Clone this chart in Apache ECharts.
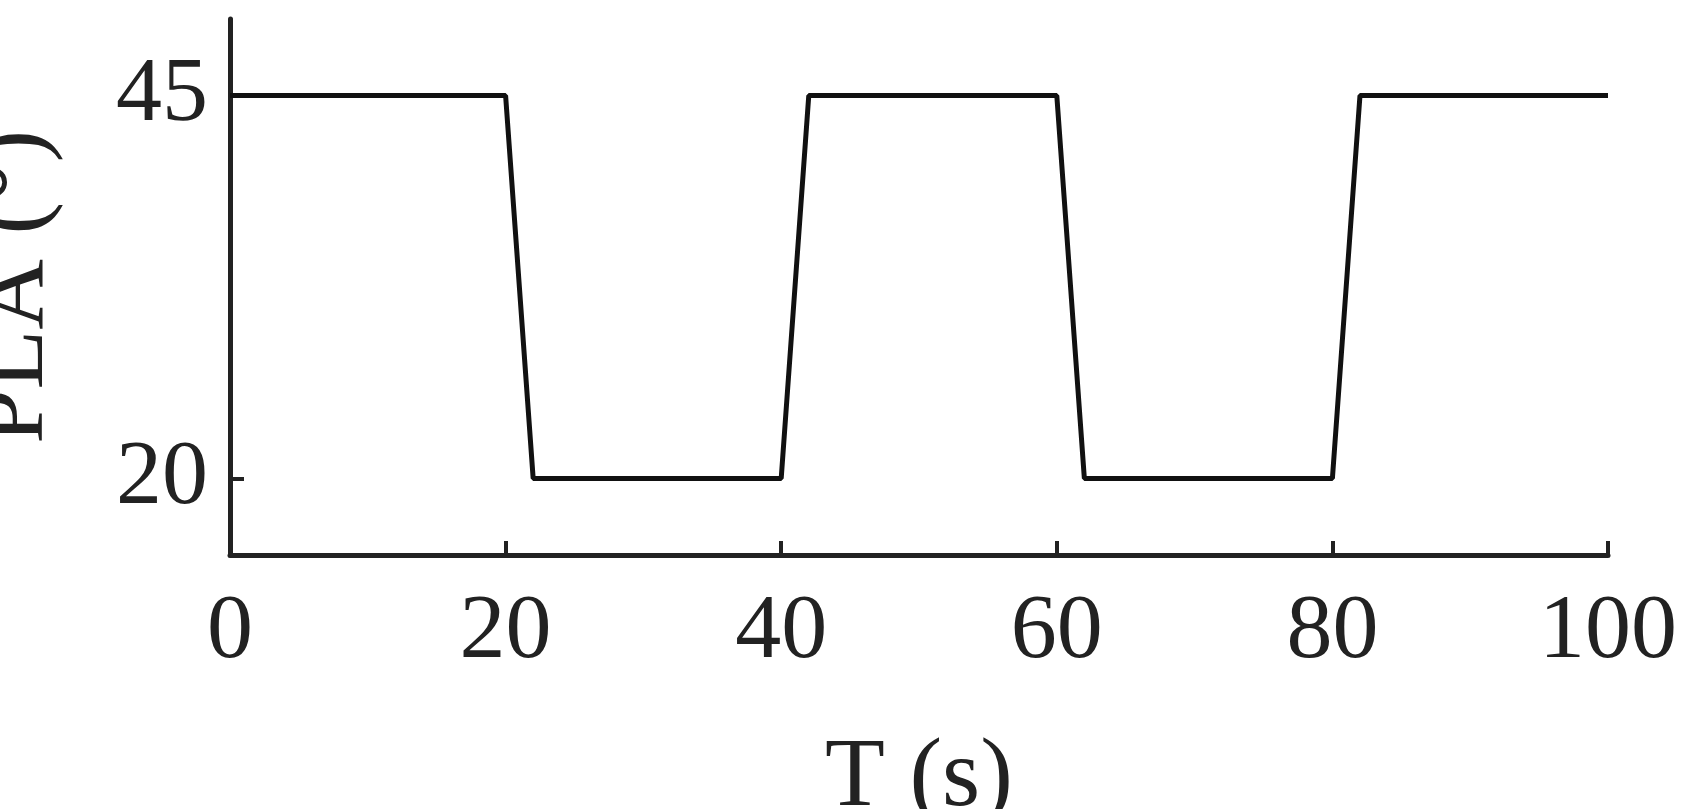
<!DOCTYPE html>
<html>
<head>
<meta charset="utf-8">
<script src="https://cdn.jsdelivr.net/npm/echarts@6/dist/echarts.min.js"></script>
<style>html,body{margin:0;background:#fff}#chart{width:1695px;height:809px}</style>
</head>
<body>
<div id="chart"></div>
<script>
// PLA profile over time
var timeS = [0, 20, 22, 40, 42, 60, 62, 80, 82, 100]
var plaDeg = [45, 45, 20, 20, 45, 45, 20, 20, 45, 45]
var xTicks = [0, 20, 40, 60, 80, 100]
var yTicks = [20, 45]

var font = 'Liberation Serif'
var ink = '#222'

var chart = echarts.init(document.getElementById('chart'))
chart.setOption({
  animation: false,
  grid: { left: 230, right: 87, top: 19, bottom: 254, outerBoundsMode: 'none' },
  xAxis: {
    type: 'value', min: 0, max: 100, interval: 20,
    name: 'T (s)', nameLocation: 'middle', nameGap: 175,
    nameTextStyle: { fontFamily: font, fontSize: 98, color: ink },
    axisLine: { lineStyle: { color: ink, width: 5 } },
    axisTick: { inside: true, length: 14, lineStyle: { color: ink, width: 4 },
      customValues: xTicks.slice(1) },
    axisLabel: { fontFamily: font, fontSize: 92, color: ink, margin: 32,
      customValues: xTicks },
    splitLine: { show: false }
  },
  yAxis: {
    type: 'value', min: 15, max: 50,
    name: 'PLA (°)', nameLocation: 'middle', nameGap: 165,
    nameTextStyle: { fontFamily: font, fontSize: 98, color: ink },
    axisLine: { show: true, lineStyle: { color: ink, width: 5 } },
    axisTick: { show: true, inside: true, length: 14, lineStyle: { color: ink, width: 4 },
      customValues: yTicks },
    axisLabel: { fontFamily: font, fontSize: 92, color: ink, margin: 22,
      customValues: yTicks },
    splitLine: { show: false }
  },
  series: [{
    type: 'line',
    data: timeS.map(function (t, i) { return [t, plaDeg[i]] }),
    showSymbol: false,
    lineStyle: { color: '#111', width: 5 }
  }]
})
</script>
</body>
</html>
